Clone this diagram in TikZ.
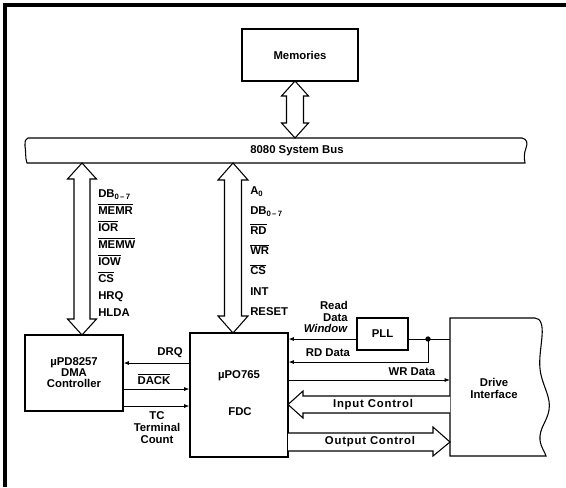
\documentclass[tikz,border=0pt]{standalone}
\usepackage{fontspec}
\setmainfont{Liberation Sans}
\usetikzlibrary{arrows.meta,calc}
\newcommand\lsub[1]{\raisebox{-0.45ex}{\fontsize{5.8}{6}\selectfont #1}}
\newcommand\ovl[1]{$\overline{\hbox{#1}}$}
\newcommand\vdbl[5]{%
  \draw[hollow] (#1) -- ($(#1)+(#4,#5)$) -- ($(#1)+(#3,#5)$) -- ($(#2)+(#3,-#5)$)
    -- ($(#2)+(#4,-#5)$) -- (#2) -- ($(#2)+(-#4,-#5)$) -- ($(#2)+(-#3,-#5)$)
    -- ($(#1)+(-#3,#5)$) -- ($(#1)+(-#4,#5)$) -- cycle;}
\begin{document}
\begin{tikzpicture}[x=0.75pt,y=-0.75pt,
  every node/.style={font=\bfseries\fontsize{8.5}{9}\selectfont, inner sep=0pt},
  box/.style={draw, line width=0.8pt},
  hollow/.style={draw, line width=0.8pt, fill=white, line join=miter},
  line/.style={draw, line width=0.7pt},
  sig/.style={draw, line width=0.7pt, -{Latex[length=4pt,width=3pt]}},
  frame/.style={draw, line width=2.3pt}]
\useasboundingbox (0,0) rectangle (566,487);
% frame
\draw[frame] (5,487) -- (5,5) -- (566,5);

% boxes
\node[box, minimum width=87pt, minimum height=39pt] (mem) at (300,55) {Memories};
\node[box, minimum width=73.5pt, minimum height=57pt, align=center,
      font=\bfseries\fontsize{8.5}{8.3}\selectfont] (dma) at (74,373) {µPD8257\\DMA\\Controller};
\node[box, minimum width=73.5pt, minimum height=93pt] (fdc) at (239,395) {};
\node (fdcname) at (239,376) {µPO765};
\node (fdclabel) at (240,412) {FDC};
\node[box, minimum width=38.25pt, minimum height=24pt] (pll) at (382.5,334) {PLL};

% drive interface with wavy right edge
\draw[box] (450,318) -- (535,318) .. controls (541,318) and (543,326) .. (542,336)
  .. controls (541,350) and (538,362) .. (541,375)
  .. controls (544,388) and (551,398) .. (549,410)
  .. controls (547,422) and (539,428) .. (540,440)
  .. controls (541,448) and (545,452) .. (546,456) -- (450,456) -- cycle;
\node[align=center, font=\bfseries\fontsize{8.5}{9}\selectfont] (drv) at (494,388) {Drive\\Interface};
\coordinate (drvw) at (450,387);

% system bus
\draw[box, fill=white] (28,138) -- (522,138) .. controls (527,139) and (528,143) .. (526,148)
  .. controls (524,153) and (524,158) .. (525,163) -- (27,163)
  .. controls (25,158) and (26,150) .. (25,146) .. controls (25,141) and (25,139) .. (28,138) -- cycle;
\node (bus) at (297,151) {8080 System Bus};

% double hollow arrows
\coordinate (mA) at (295,81);  \coordinate (mB) at (295,138);
\coordinate (lA) at (82,163);  \coordinate (lB) at (82,335);
\coordinate (rA) at (233,163); \coordinate (rB) at (233,333);
\vdbl{mA}{mB}{8.5}{13.5}{15}
\vdbl{lA}{lB}{8}{14.5}{16}
\vdbl{rA}{rB}{8.5}{15}{17}

% bus signal labels
\foreach \t [count=\i from 0] in {DB\lsub{0\,–\,7}, \ovl{MEMR}, \ovl{IOR}, \ovl{MEMW}, \ovl{IOW}, \ovl{CS}, HRQ, HLDA}
  \node[anchor=base west] at (98,{197+17*\i}) {\t};
\foreach \t [count=\i from 0] in {A\lsub{0}, DB\lsub{0\,–\,7}, \ovl{RD}, \ovl{WR}, \ovl{CS}, INT, RESET}
  \node[anchor=base west] at (250,{194+20.2*\i}) {\t};

% row coordinates
\coordinate (rPLL) at (0,339);
\coordinate (rRD) at (0,362);
\coordinate (rWR) at (0,380);
\coordinate (rDRQ) at (0,363);
\coordinate (rDACK) at (0,389);
\coordinate (rTC) at (0,406);

% DMA <-> FDC
\draw[sig] (fdc.west |- rDRQ) -- (dma.east |- rDRQ);
\draw[sig] (dma.east |- rDACK) -- (fdc.west |- rDACK);
\draw[sig] (dma.east |- rTC) -- (fdc.west |- rTC);
\node (drq) at (170,353) {DRQ};
\node[anchor=base] (dack) at (154,384) {\ovl{DACK}};
\node[align=center, font=\bfseries\fontsize{8.5}{9}\selectfont] (tc) at (157,428) {TC\\Terminal\\Count};

% FDC <-> drive
\coordinate (dot) at (428,339);
\draw[sig] (pll.west |- rPLL) -- (fdc.east |- rPLL);
\draw[line] (drvw |- rPLL) -- (pll.east |- rPLL);
\fill (dot) circle[radius=2pt];
\draw[sig] (dot) -- (dot |- rRD) -- (fdc.east |- rRD);
\draw[sig] (fdc.east |- rWR) -- (drvw |- rWR);
\node[anchor=east, align=right, font=\bfseries\fontsize{8.5}{8.6}\selectfont] (rdw) at (348,317) {Read\\Data\\\textit{Window}};
\node (rdd) at (328,353) {RD Data};
\node (wrd) at (412,372) {WR Data};

% input / output control bands
\draw[hollow] (450,396) -- (303,396) -- (303,391) -- (288,404.5) -- (303,418) -- (303,413) -- (450,413);
\draw[hollow] (288,433) -- (433,433) -- (433,427) -- (450,442) -- (433,456) -- (433,451) -- (288,451);
\node (ic) at (373,405) {\addfontfeature{LetterSpace=7}Input Control};
\node (oc) at (370,442) {\addfontfeature{LetterSpace=7}Output Control};
\end{tikzpicture}
\end{document}
